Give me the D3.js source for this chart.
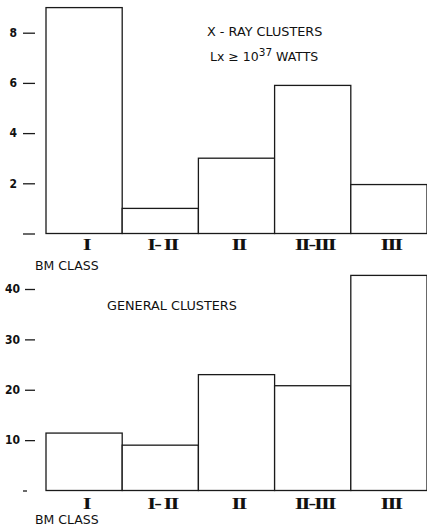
<!DOCTYPE html>
<html><head><meta charset="utf-8">
<script src="https://cdn.jsdelivr.net/npm/d3@7"></script>
<style>
body{margin:0;background:#fff;}
svg{display:block;}
</style></head>
<body>
<svg id="c" width="427" height="528"></svg>
<script>
const categories = ["I", "I-II", "II", "II-III", "III"];
const categoryLabels = ["I", "I- II", "II", "II-III", "III"];
const xrayCounts = [9, 1, 3, 5.9, 1.95];
const generalCounts = [11.4, 9, 23, 20.8, 42.7];
const xrayTicks = [0, 2, 4, 6, 8];
const generalTicks = [0, 10, 20, 30, 40];

const SANS = "'DejaVu Sans', sans-serif";
const svg = d3.select("#c");
const x = d3.scaleBand().domain(categories).range([46, 427]).paddingInner(0).paddingOuter(0);

function panel(values, yScale, ticks, opts) {
  const g = svg.append("g");
  g.selectAll("rect.bar").data(values).join("rect")
    .attr("class", "bar")
    .attr("x", (d, i) => x(categories[i]))
    .attr("y", d => yScale(d))
    .attr("width", x.bandwidth())
    .attr("height", d => yScale(0) - yScale(d))
    .attr("fill", "#fff")
    .attr("stroke", "#1a1a1a")
    .attr("stroke-width", 1.3);
  const ax = d3.axisLeft(yScale).tickValues(ticks)
    .tickSize(opts.tickSize).tickPadding(opts.pad)
    .tickFormat(d => d === 0 ? "" : d);
  const axg = g.append("g").attr("transform", `translate(${opts.axisX},0)`).call(ax);
  axg.select(".domain").remove();
  axg.selectAll(".tick line").attr("stroke", "#1a1a1a").attr("stroke-width", 1.3);
  axg.selectAll(".tick text")
     .style("font-size", "12px").style("font-weight", "bold").style("fill", "#111")
     .style("font-family", "'DejaVu Sans Condensed', 'DejaVu Sans', sans-serif");
  if (opts.zeroShort) {
    axg.selectAll(".tick").filter(d => d === 0).select("line").attr("x1", -8).attr("x2", -12);
  }
  g.selectAll("text.cat").data(categoryLabels).join("text")
    .attr("class", "cat")
    .attr("x", (d, i) => x(categories[i]) + x.bandwidth() / 2 + 2)
    .attr("y", yScale(0) + opts.catDy)
    .attr("text-anchor", "middle")
    .style("font-family", "'Liberation Serif', 'DejaVu Serif', serif")
    .style("font-weight", "bold")
    .style("font-size", "17px")
    .style("letter-spacing", "-1.5px")
    .style("fill", "#111")
    .attr("transform", (d, i) => {
      const cx = x(categories[i]) + x.bandwidth() / 2 + 2;
      return `translate(${cx},0) scale(1.35,1) translate(${-cx},0)`;
    })
    .text(d => d);
  g.append("text").attr("x", 35).attr("y", yScale(0) + opts.bmDy)
    .style("font-family", SANS).style("font-size", "12.5px").style("fill", "#111").text("BM CLASS");
  return g;
}

const yTop = d3.scaleLinear().domain([0, 8]).range([233.5, 32.7]);
panel(xrayCounts, yTop, xrayTicks, {axisX: 35, tickSize: 12, pad: 6, catDy: 16.5, bmDy: 36.5});

const yBot = d3.scaleLinear().domain([0, 40]).range([490.5, 289]);
panel(generalCounts, yBot, generalTicks, {axisX: 35, tickSize: 10, pad: 5, catDy: 18.5, bmDy: 33.5, zeroShort: true});

function label(xp, yp, size, txt) {
  return svg.append("text").attr("x", xp).attr("y", yp)
    .style("font-family", SANS).style("font-size", size + "px").style("fill", "#111").text(txt);
}
label(207, 36, 12.8, "X - RAY CLUSTERS");
const t2 = label(210, 61, 12.5, "");
t2.append("tspan").text("Lx ≥ 10");
t2.append("tspan").attr("dy", -5).style("font-size", "10.5px").text("37");
t2.append("tspan").attr("dy", 5).text(" WATTS");
label(107, 310, 12.8, "GENERAL  CLUSTERS");
</script>
</body></html>
